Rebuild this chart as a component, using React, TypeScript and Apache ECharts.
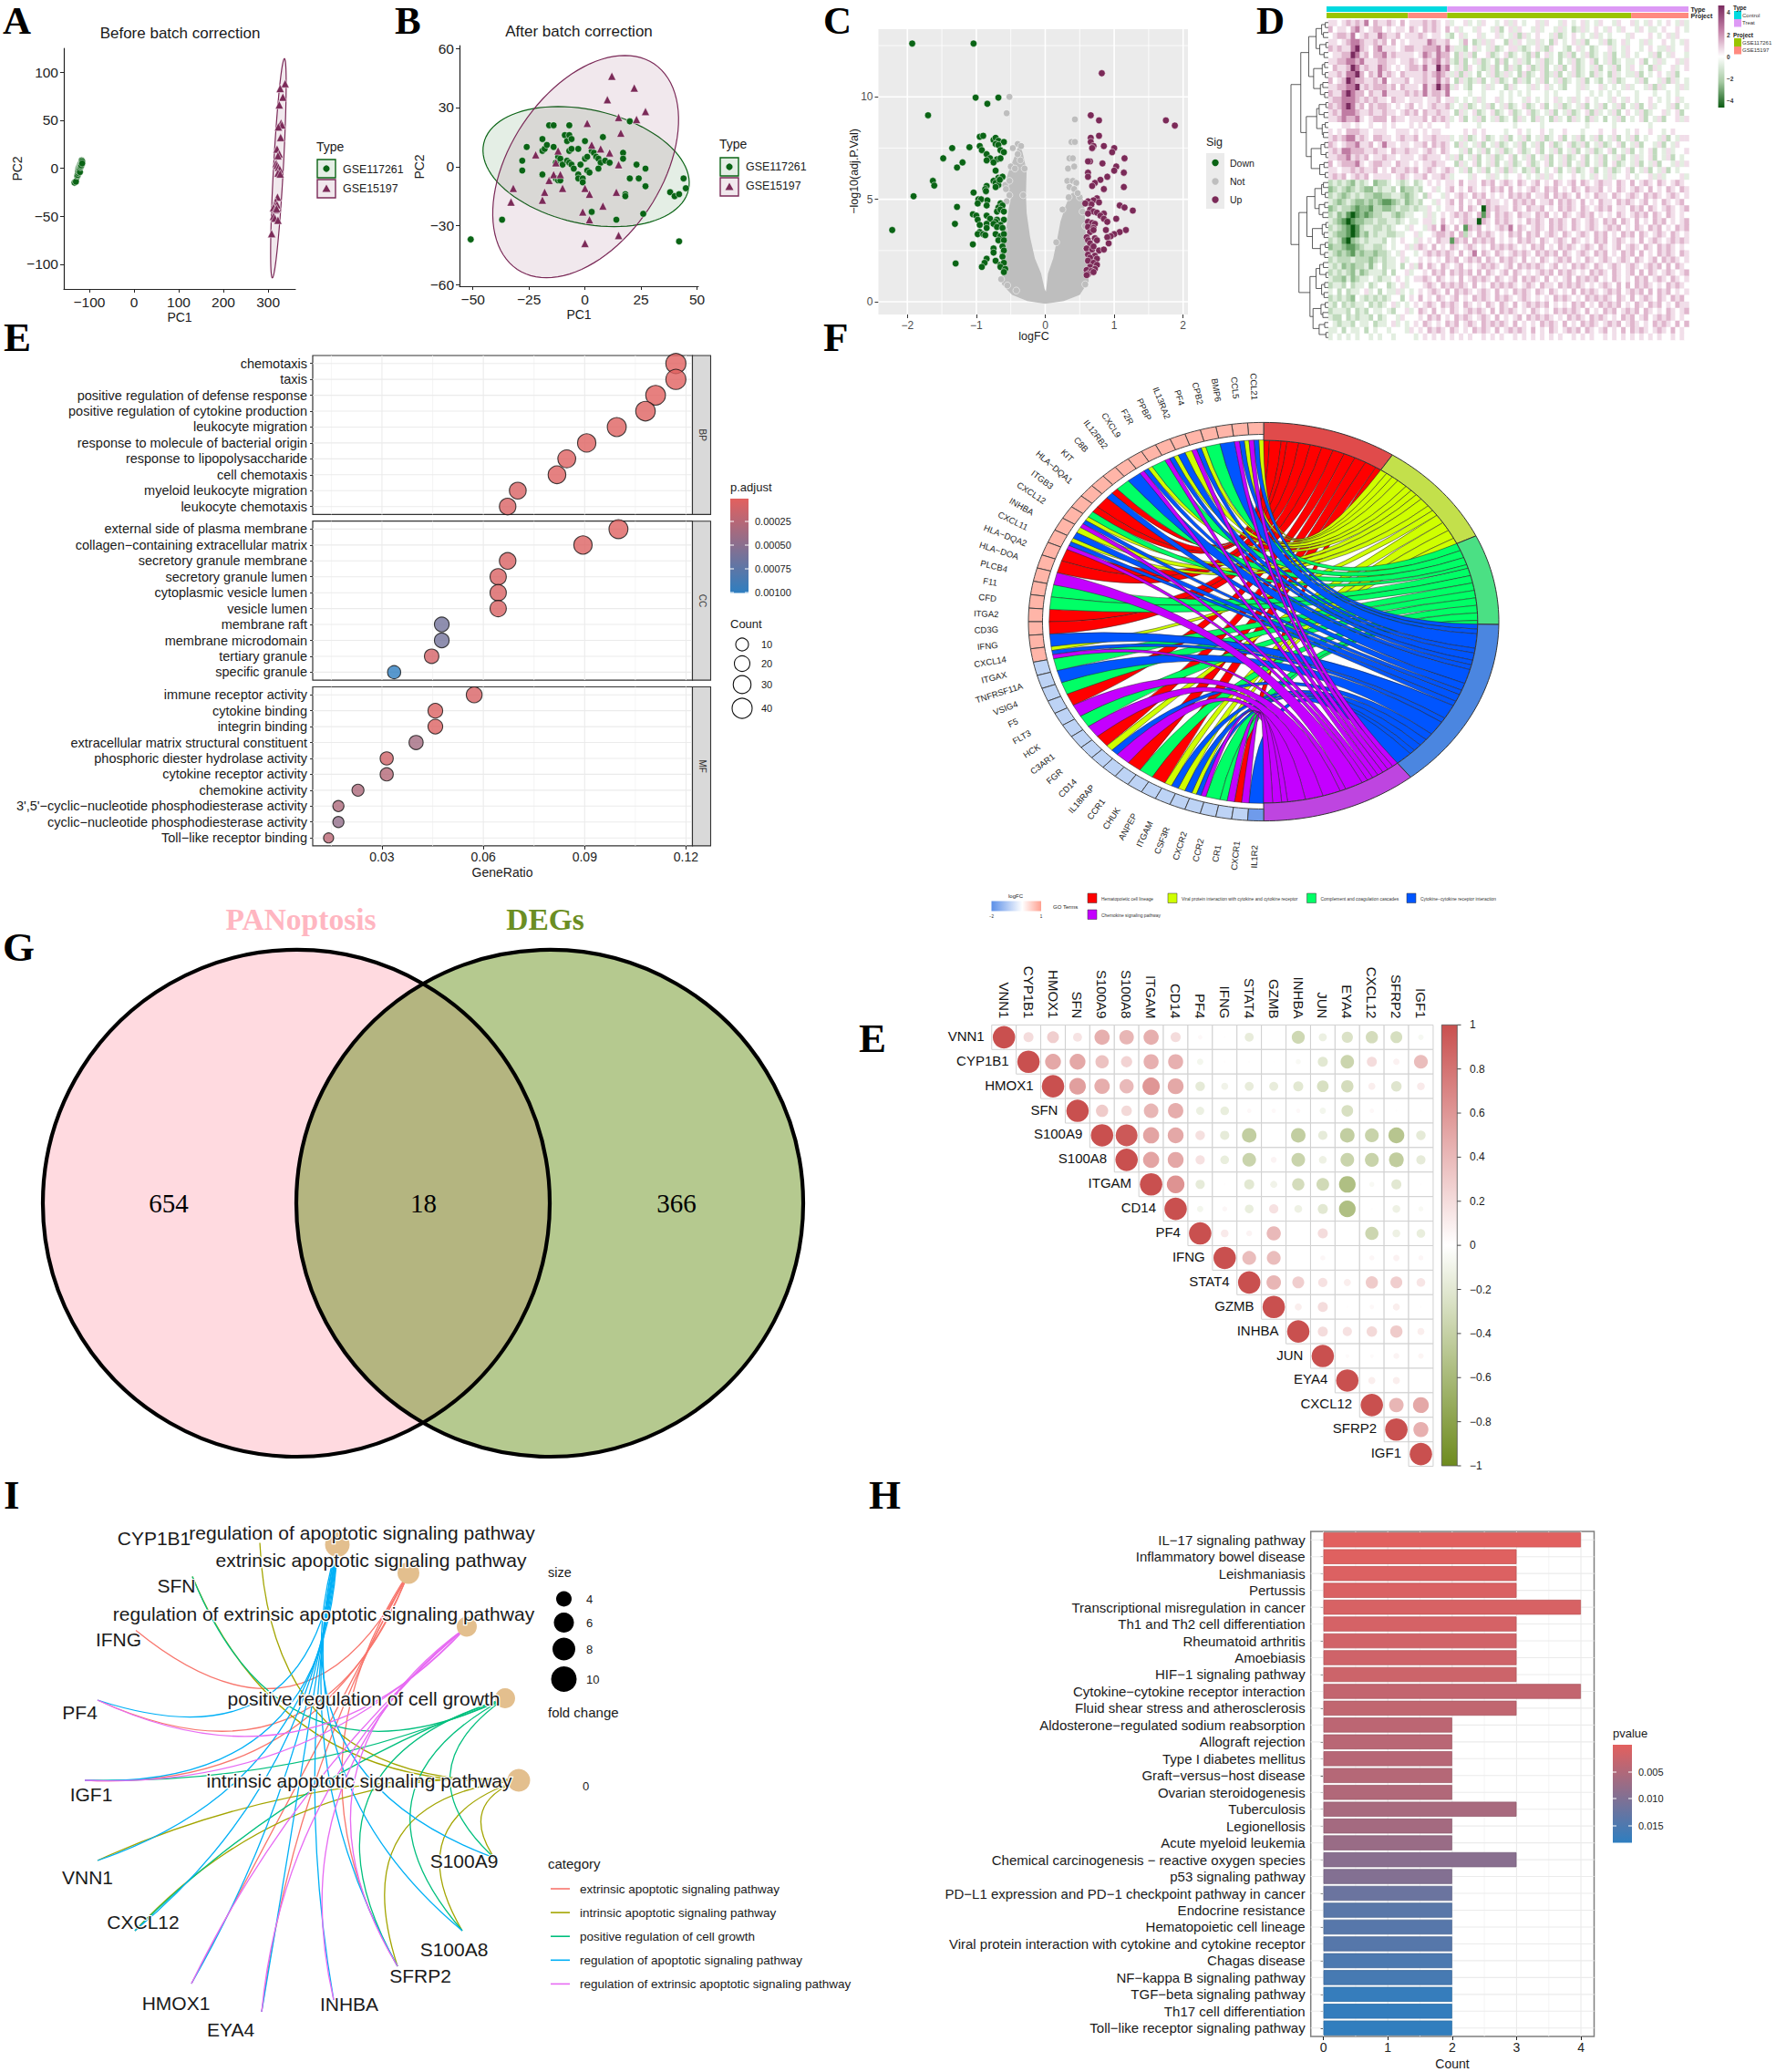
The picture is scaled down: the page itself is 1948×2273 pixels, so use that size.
import React, { useEffect, useRef } from "react";
import * as echarts from "echarts";

const SANS = '"Liberation Sans", Arial, sans-serif';
const SERIF = '"Liberation Serif", "Times New Roman", serif';

/* ---------- A / B ---------- */
const pcaAGreen = [[-133,-15],[-130,-14],[-127,-8],[-126,-7],[-125,-5],[-125,-3],[-124,-2],[-124,0],[-123,1],[-122,-1],[-122,2],[-121,-4],[-121,3],[-120,1],[-120,4],[-119,5],[-119,2],[-118,6],[-118,3],[-117,8],[-116,7],[-116,5]];
const pcaAPurple = [[338,88],[327,83],[333,74],[325,66],[329,47],[331,45],[323,43],[328,32],[320,20],[325,15],[322,13],[318,5],[320,3],[323,1],[326,-1],[322,-5],[327,-6],[321,-30],[317,-35],[315,-39],[320,-38],[312,-41],[316,-43],[319,-42],[312,-50],[315,-52],[322,-54],[308,-68]];
const pcaBGreen = [[-51,-37],[-37,-27],[-28,-2],[-28,3],[-26,10],[-19,14],[-19,-4],[-19,8],[-18,9],[-17,11],[-16,21],[-14,21],[-14,10],[-13,-6],[-12,-7],[-11,-7],[-13,2],[-12,5],[-11,4],[-10,1],[-9,16],[-8,13],[-8,3],[-7,21],[-7,16],[-6,14],[-7,8],[-6,9],[-7,2],[-6,1],[-5,-1],[-3,9],[-3,-4],[-3,-6],[-2,1],[-1,-6],[-1,-8],[0,13],[0,4],[1,5],[1,-2],[2,-3],[3,8],[3,-23],[4,7],[5,5],[6,4],[7,2],[6,-1],[8,15],[9,3],[11,2],[14,-27],[17,7],[17,4],[18,-14],[18,-15],[20,-6],[20,23],[23,1],[24,-6],[26,-24],[27,-1],[27,-10],[38,-13],[40,-15],[42,-14],[42,-38],[44,-6],[45,-11]];
const pcaBPurple = [[-32,-11],[-33,-18],[-22,6],[-18,-13],[-19,-17],[-16,-7],[-14,-4],[-13,2],[-12,8],[-11,-4],[-10,-11],[0,-11],[1,22],[0,-39],[-1,-23],[2,-14],[2,-27],[3,11],[7,9],[8,-20],[10,34],[11,7],[12,46],[14,-13],[15,25],[16,17],[15,1],[15,-35],[22,40],[23,24],[27,28]];
const ellipseA = [[-122,-3,6,13,3,0],[323,0,13.5,114,11,0]];
const ellipseB = [[0.5,0,-12.5,30.5,44.3,0],[0.3,0,17.5,56.5,37.6,0]];
const ticksAx = [-100,0,100,200,300];
const ticksAy = [-100,-50,0,50,100];
const ticksBx = [-50,-25,0,25,50];
const ticksBy = [-60,-30,0,30,60];

/* ---------- C ---------- */
const volcanoDown = [[-1.93,12.6],[-1.04,12.6],[-1.01,9.96],[-.68,9.96],[-.84,9.66],[-1.7,9.1],[-.95,8.05],[-.9,8.1],[-.75,7.9],[-.72,8],[-.68,7.85],[-.6,7.8],[-.72,7.7],[-.68,7.65],[-1.1,7.54],[-1.35,7.5],[-.95,7.6],[-.92,7.4],[-.85,7.2],[-.65,7.4],[-.6,7.3],[-.8,7],[-.85,6.9],[-.7,6.95],[-.65,7],[-.75,6.8],[-1.48,7],[-1.2,6.8],[-1.28,6.55],[-.72,6.4],[-.68,6.05],[-.65,6],[-.62,6.1],[-.75,5.9],[-.72,5.8],[-.68,5.7],[-.66,5.95],[-.72,5.6],[-.85,5.65],[-.87,5.5],[-.86,5.4],[-1.63,5.9],[-1.61,5.67],[-1.04,5.33],[-1.91,5.15],[-.97,5],[-.93,5],[-.84,4.95],[-.98,4.8],[-.85,4.7],[-.65,4.8],[-.68,4.6],[-.62,4.7],[-.7,4.4],[-.65,4.5],[-.6,4.4],[-1.28,4.63],[-1.05,4.27],[-1,4.2],[-.98,4],[-.85,4.2],[-.8,4.05],[-.7,4],[-.72,3.9],[-.6,4],[-.85,3.8],[-.95,3.75],[-.75,3.8],[-.65,3.75],[-.7,3.65],[-.62,3.6],[-.95,3.4],[-.85,3.6],[-1.31,3.8],[-2.22,3.5],[-.98,3.3],[-.9,3.3],[-.87,3.25],[-.72,3.3],[-.65,3.2],[-.6,3.3],[-.68,3],[-.6,3],[-1.05,2.8],[-.62,2.7],[-.75,2.6],[-.6,2.5],[-.75,2.4],[-.62,2.2],[-.85,2.1],[-.72,2],[-.88,1.9],[-1.3,1.87],[-.92,1.7],[-.65,1.8],[-.6,1.9],[-.65,1.7],[-.58,1.6],[-.6,1.45]];
const volcanoUp = [[.82,11.15],[.66,9.1],[.78,8.85],[1.75,8.85],[1.88,8.6],[.66,8],[.78,8.1],[.66,7.8],[.7,7.6],[.68,7.5],[.85,7.6],[1,7.5],[.97,7.3],[1.15,7],[.65,6.85],[.62,6.85],[.83,6.75],[1.03,6.6],[1,6.4],[1.14,6.3],[.62,6.3],[.62,6.1],[.9,6.1],[.8,5.95],[.72,5.8],[.68,5.65],[.85,5.5],[1.14,5.6],[.75,5.05],[.7,4.95],[.62,4.9],[.78,4.85],[.67,4.75],[1.08,4.7],[1.15,4.6],[.58,4.8],[.65,4.5],[.7,4.4],[.75,4.35],[.62,4.3],[1.27,4.45],[.85,4.3],[.8,4.2],[.85,4.05],[1.03,4.05],[.9,3.9],[.62,3.9],[.68,3.85],[.72,3.8],[.62,3.65],[.7,3.6],[.65,3.4],[.7,3.5],[.88,3.5],[1.17,3.5],[1.08,3.4],[1,3.3],[.95,3.2],[.9,3.15],[.6,3.15],[.72,3.1],[.75,3],[.62,3],[.65,2.85],[.92,2.85],[.6,2.6],[.68,2.55],[.7,2.7],[.78,2.5],[.85,2.55],[.62,2.3],[.72,2.25],[.65,2.15],[.75,2.1],[.62,2],[.7,1.9],[.75,1.8],[.65,1.7],[.72,1.6],[.6,1.55],[.67,1.5],[.62,1.35],[.6,1.3],[.7,1.45]];
const volcanoNotMass = [[0,-.1],[-.26,.04],[-.48,.34],[-.63,.86],[-.63,1.38],[-.59,2.86],[-.54,4.34],[-.5,5.08],[-.59,5.67],[-.54,6.27],[-.48,6.79],[-.42,7.3],[-.38,7.75],[-.33,7.3],[-.27,6.41],[-.28,5.23],[-.27,4.34],[-.22,3.16],[-.15,2.12],[-.06,1.38],[-.01,.64],[.01,.49],[.04,1.38],[.115,2.12],[.17,3],[.22,3.9],[.29,4.64],[.36,5.23],[.45,5.45],[.56,4.93],[.585,3.6],[.6,2.12],[.63,1],[.5,.34],[.27,.04]];
const volcanoNot = [[-.52,10],[-.56,9.2],[.43,8.9],[.38,7.8],[.43,7.8],[.35,7],[.4,7],[.33,6.5],[.42,6.6],[.32,5.9],[.4,5.9],[.45,5.8],[.35,5.6],[-.4,7.7],[-.47,7.5],[-.35,7.6],[-.4,7.2],[-.5,6.6],[-.44,6.5],[-.36,6.9],[-.3,6.5],[-.58,5.7],[-.52,5.9],[-.57,5.5],[-.32,5.2],[-.52,5.2],[-.56,4.9],[-.6,3.5],[-.62,2.4],[-.64,1.1],[-.55,.8],[-.42,.55],[.58,.85],[.62,1.4],[.6,2.6],[.58,3.7],[.54,4.4],[.5,5.1],[.42,5.5],[.47,5.3],[.34,5.1],[.25,4.5],[.16,2.9]];
const ticksCx = [-2,-1,0,1,2];
const ticksCy = [0,5,10];

/* ---------- D ---------- */
const heatRows = [
"66567676857667657566676765645564546554564654556465546545645465546556454654565464",
"75665786567756566576576765756455465546356465546455464534645654654655465445655654",
"56776856766876675666765665435645564556454636456554634565454645455546555654564655",
"66567887667675756566668766755475346465536465446453654564635546345645546455654546",
"76766897657866656776677786864435645463456643456436554356453455645465545654464556",
"56677986757786766665687687753646355634563454363564534635463454635465455463546554",
"66778878666776656676576786743635463453635464354634535463456354634544563546455646",
"57667986766876565677686697854636543463536435634635463563454635463546545364556456",
"66768897576867657666676787646364535463464536345634635463453645364544635456546355",
"75679877667685666756676686753643463546345364354635463454635435463455463554636454",
"66778896767776757666586797846543554645536455464564543554645564545464554636455464",
"76689877576686666767686776855554554555454545455545455554554545454555455545545455",
"67788876767665766566656675664545464556454554654545645464565455465465455654545645",
"76789867576776565675656766745463454635463456345635463454635463546354635645546354",
"67688876676676656767576676653645634563456345634546354634563645463565463455645635",
"66787786567775766566675767645635463546345364536453645364536453546354563546355646",
"55566565565565655565656555655555545555555455555455555555545555545555555455555555",
"65657776656665566656565665555565656555545565455654556555455565565545655655456555",
"67678867657766567667566766645463456345463546354634563546354635463546354554635466",
"76567786675686656656675767653645463546345463546356345634635463456354635546354655",
"67688777667665766766567657655463546354634563456354635463546345635463545635464556",
"66778676756676656665676665646354635463456354635463546345635463546354645635463545",
"75677786567766576656566766553645635463546345634563546354635463563454635463554646",
"66566767667565766767567656765463546354636453463545635463456354634563546354635455",
"67675676756666567656675667645554655464545565454646545565454654645565455646455564",
"34343243452334543453456565665756657675676576567565765675765676657657567657656765",
"23432343224344352334355645675657656576757565676576756576576675657656765756576576",
"34323434332233443234536554656765767565657676756675767657565766576567657676567656",
"43234322323211234234355465675756576766565767675667576765756576657676567565765675",
"23433212213322343343446545665757650767665765766756576765765676756657675765676567",
"34231012123344323445546456567676571757676576657675657656767565657656767576576565",
"43210122334334434544566457565676607657676565767657676576567657675765756576756567",
"34321013443343455465546758657517675656768576567657676576567656767565765767565767",
"43221013243443344556455677675736576765657675767567657656765767565767576567657656",
"34310234344435456554656576617675767675656576765765676576565767567656575676567676",
"23321123443345455646765756576567656576767656576756576765676576567567657657676565",
"43232132332334546554567676765756857657656767657676757656765767565767575657676576",
"34333433323434456455656565767567675765767657565765676756576567656765765675767656",
"43423233424534453564757657656756567676567576767656756576765765676567656767575765",
"34343242344435355645565767576767575765675765656767576765657676576567575765676567",
"43324234454344565456676576565756767657656757676575656757676756576565767567657656",
"34435344534553456455567657676765756576767656765766576767656567657575767656576765",
"45353445645354464545656765757676567657565767657657656575767656767567675757675656",
"34343254343434553565756576567565767657676567656565767656576767657657567657657675",
"43534344534345645456567657676576565765765756767675656576756576767565765767565766",
"34443534354454355645765756576567676575767656576565767676575657675676757656576567",
"43353434435345546555657675657676567657565675767676565767657676565767567567676565",
"54344354453445645456576565767567657676765756565767657565767656767567656576765757",
"44535445354554555465657676576565767657567676575657656767576567565757676567657565",
"45454545545455455554565656565656556565655656565656565565656556565656565656556565",
];
const heatColors = ["#0B5B12","#5E9B5E","#94C092","#BFDABC","#E2EEE0","#FFFFFF","#F1DEE9","#E0B6CD","#C07CA3","#7A2A5F"];
const typeBar = [["Control",40],["Treat",80]];
const projectBar = [["GSE117261",27],["GSE15197",13],["GSE117261",61],["GSE15197",19]];
const dendroLevels = [
 [5,8,4,7,6,5,9,6,4,7,5,8,6,4,7,5,8,5,6,9,4,7,5,6,8,4,6,7,5,9,6,4],
 [11,14,10,13,15,10,12,14,11,15,10,13,14,11,12,15],
 [20,24,19,28,22,26,20,25],
 [32,36,35,30],
 [45,48],
 [61],
];

/* ---------- E (dot plot) ---------- */
const bpTerms = ["chemotaxis","taxis","positive regulation of defense response","positive regulation of cytokine production","leukocyte migration","response to molecule of bacterial origin","response to lipopolysaccharide","cell chemotaxis","myeloid leukocyte migration","leukocyte chemotaxis"];
const ccTerms = ["external side of plasma membrane","collagen\u2212containing extracellular matrix","secretory granule membrane","secretory granule lumen","cytoplasmic vesicle lumen","vesicle lumen","membrane raft","membrane microdomain","tertiary granule","specific granule"];
const mfTerms = ["immune receptor activity","cytokine binding","integrin binding","extracellular matrix structural constituent","phosphoric diester hydrolase activity","cytokine receptor activity","chemokine activity","3',5'\u2212cyclic\u2212nucleotide phosphodiesterase activity","cyclic\u2212nucleotide phosphodiesterase activity","Toll\u2212like receptor binding"];
const bpRatio = [.117,.117,.111,.108,.0995,.0906,.0847,.0818,.0702,.0672];
const ccRatio = [.1,.0895,.0672,.0644,.0644,.0644,.0477,.0477,.0447,.0336];
const mfRatio = [.0573,.0458,.0458,.0401,.0314,.0314,.0229,.0171,.0171,.0142];
const bpP = [.00001,.00001,.00001,.00002,.00002,.00002,.00003,.00003,.00005,.00005];
const ccP = [.00002,.00004,.00005,.00005,.00005,.00005,.00062,.00062,.00008,.001];
const mfP = [.00006,.00004,.00004,.00036,.0001,.00026,.0003,.0003,.00045,.00022];
const bpCount = [40,40,38,37,34,31,29,28,24,23];
const ccCount = [34,31,23,22,22,22,16,16,15,11];
const mfCount = [20,16,16,14,11,11,8,6,6,4];
const ticksDot = [.03,.06,.09,.12];
const minorDot = [.015,.045,.075,.105];

/* ---------- F (chord) ---------- */
const chordGenes = ["CCL21","CCL5","BMP6","CPB2","PF4","IL13RA2","PPBP","F2R","CXCL9","IL12RB2","C8B","KIT","HLA\u2212DQA1","ITGB3","CXCL12","INHBA","CXCL11","HLA\u2212DQA2","HLA\u2212DOA","PLCB4","F11","CFD","ITGA2","CD3G","IFNG","CXCL14","ITGAX","TNFRSF11A","VSIG4","F5","FLT3","HCK","C3AR1","FGR","CD14","IL18RAP","CCR1","CHUK","ANPEP","ITGAM","CSF3R","CXCR2","CCR2","CR1","CXCR1","IL1R2"];
const chordLinks = ["YBP","YBP","B","G","YBP","YB","YBP","G","YBP","B","G","RB","R","RG","YBP","YB","YBP","R","R","P","G","G","R","R","B","YBP","G","B","G","R","P","G","P","R","YB","P","R","G","R","YB","YB","YBP","G","GP","RP","B"];
const chordUpCount = 26;
const chordTermKeys = ["R","Y","G","B","P"];
const chordTermSpan = [33.2,31.3,26.3,50.5,38.7];
const chordTermColor = ["#FF0000","#CFFF00","#00FF66","#0055FF","#C400FF"];
const chordRingColor = ["#E04B4B","#C3E04B","#4BE084","#4B86E0","#BE45E0"];
const chordTermNames = ["Hematopoietic cell lineage","Viral protein interaction with cytokine and cytokine receptor","Complement and coagulation cascades","Cytokine\u2212cytokine receptor interaction","Chemokine signaling pathway"];

/* ---------- G ---------- */
const vennSets = ["PANoptosis","DEGs"];
const vennCounts = [654,18,366];
const vennCircles = [[325,1320,278],[603,1320,278]];

/* ---------- corr ---------- */
const corrGenes = ["VNN1","CYP1B1","HMOX1","SFN","S100A9","S100A8","ITGAM","CD14","PF4","IFNG","STAT4","GZMB","INHBA","JUN","EYA4","CXCL12","SFRP2","IGF1"];
const corrRows = [
 [1,.2,.28,.16,.46,.42,.46,.2,.04,.01,-.16,0,-.34,-.13,-.25,-.3,-.28,-.06],
 [1,.5,.5,.35,.25,.45,.45,-.08,.01,.01,.005,-.05,-.2,-.36,.2,.08,.38],
 [1,.55,.47,.4,.6,.5,-.18,-.1,-.16,-.16,-.2,-.27,-.3,.1,-.22,.12],
 [1,.3,.22,.42,.47,-.13,-.15,.04,.04,.04,-.08,-.27,.04,.01,.01],
 [1,.95,.52,.5,.18,-.17,-.42,.005,-.42,-.17,-.42,-.38,-.5,-.18],
 [1,.52,.5,.17,-.15,-.37,.07,-.37,-.12,-.37,-.38,-.43,-.17],
 [1,.62,-.17,.01,-.2,-.1,-.3,-.32,-.55,-.05,-.2,.01],
 [1,-.08,.05,-.15,.17,-.12,-.2,-.55,.01,-.12,-.05],
 [1,.12,.07,.4,.01,.2,.01,-.35,-.12,-.15],
 [1,.38,.38,0,.05,.01,.05,.08,.05],
 [1,.42,.28,.17,.1,.3,.28,.15],
 [1,.1,.2,.01,.04,.1,.01],
 [1,.2,.17,.22,.3,.1],
 [1,.03,.03,.07,.06],
 [1,.1,.1,.03],
 [1,.42,.5],
 [1,.45],
 [1],
];
const corrTicks = [1,.8,.6,.4,.2,0,-.2,-.4,-.6,-.8,-1];

/* ---------- I (gene-concept network) ---------- */
const cnetTerms = ["extrinsic apoptotic signaling pathway","intrinsic apoptotic signaling pathway","positive regulation of cell growth","regulation of apoptotic signaling pathway","regulation of extrinsic apoptotic signaling pathway"];
const cnetTermPos = [[448,1725.6],[569,1953],[554,1863],[370,1694.5],[512,1784.5]];
const cnetTermSize = [24,25,22,27,22];
const cnetTermLabel = [[407,1711],[394,1953.7],[399,1863.6],[397,1681.6],[355,1770]];
const cnetColors = ["#F8766D","#A3A500","#00BF7D","#00B0F6","#E76BF3"];
const cnetGenes = ["CYP1B1","SFN","IFNG","PF4","IGF1","VNN1","CXCL12","HMOX1","EYA4","INHBA","SFRP2","S100A8","S100A9"];
const cnetGenePos = [[285,1692.5],[211,1729.6],[149,1788.6],[107,1865],[93,1953],[107,2041],[148,2118],[210,2176],[287,2207],[366,2194],[436,2157],[507,2118],[542,2038]];
const cnetGeneLabel = [[169,1687.6],[193.5,1739.7],[130,1798],[87.6,1878],[100,1968],[96,2059],[157,2108],[193,2197],[253,2226],[383,2198],[461,2167],[498,2138],[509,2041]];
const cnetEdges = [
 ["IFNG","PF4","IGF1","HMOX1","EYA4","SFRP2"],
 ["CYP1B1","SFN","VNN1","CXCL12","S100A9","S100A8","SFRP2"],
 ["SFN","IGF1","CXCL12","S100A9","S100A8","SFRP2"],
 ["PF4","IGF1","VNN1","CXCL12","HMOX1","EYA4","INHBA","S100A9","S100A8","SFRP2"],
 ["PF4","IGF1","HMOX1","EYA4","INHBA","SFRP2"],
];
const cnetSizeLegend = [[4,17],[6,22],[8,25],[10,28]];

/* ---------- H ---------- */
const keggNames = ["IL\u221217 signaling pathway","Inflammatory bowel disease","Leishmaniasis","Pertussis","Transcriptional misregulation in cancer","Th1 and Th2 cell differentiation","Rheumatoid arthritis","Amoebiasis","HIF\u22121 signaling pathway","Cytokine\u2212cytokine receptor interaction","Fluid shear stress and atherosclerosis","Aldosterone\u2212regulated sodium reabsorption","Allograft rejection","Type I diabetes mellitus","Graft\u2212versus\u2212host disease","Ovarian steroidogenesis","Tuberculosis","Legionellosis","Acute myeloid leukemia","Chemical carcinogenesis \u2212 reactive oxygen species","p53 signaling pathway","PD\u2212L1 expression and PD\u22121 checkpoint pathway in cancer","Endocrine resistance","Hematopoietic cell lineage","Viral protein interaction with cytokine and cytokine receptor","Chagas disease","NF\u2212kappa B signaling pathway","TGF\u2212beta signaling pathway","Th17 cell differentiation","Toll\u2212like receptor signaling pathway"];
const keggCount = [4,3,3,3,4,3,3,3,3,4,3,2,2,2,2,2,3,2,2,3,2,2,2,2,2,2,2,2,2,2];
const keggP = [.0003,.0006,.0009,.0011,.0014,.0016,.002,.0022,.0025,.0034,.0036,.0041,.0044,.0046,.0048,.0052,.0061,.0065,.0076,.0092,.0098,.0122,.014,.0142,.0143,.0153,.0158,.0175,.0178,.018];
const ticksH = [0,1,2,3,4];
const ticksHminor = [.5,1.5,2.5,3.5];

/* ---------- helpers ---------- */
const hex = (c: string) => [1, 3, 5].map((i) => parseInt(c.slice(i, i + 2), 16));
const mix = (a: string, b: string, t: number) => {
  const A = hex(a), B = hex(b), u = Math.max(0, Math.min(1, t));
  return "#" + A.map((v, i) => Math.round(v + (B[i] - v) * u).toString(16).padStart(2, "0")).join("");
};
const RED = "#E3605E", BLUE = "#2E7EC0";
const GREEN_PT = "#0A6415", PURPLE_PT = "#7B2A58";
const minus = (v: any) => String(v).replace("-", "\u2212");

const T = (x: number, y: number, text: string, size: number, o: any = {}) => ({
  type: "text", x, y, rotation: o.rot || 0, z: o.z ?? 50, silent: true,
  style: {
    text, font: `${o.weight || "normal"} ${size}px ${o.font || SANS}`, fill: o.fill || "#1a1a1a",
    align: o.align || "left", textAlign: o.align || "left", verticalAlign: "middle", textVerticalAlign: "middle",
    ...(o.halo ? { stroke: "#fff", lineWidth: o.halo } : {}),
  },
});
const R = (x: number, y: number, w: number, h: number, fill: any, stroke?: string, lw = 1) => ({
  type: "rect", z: 40, silent: true, shape: { x, y, width: w, height: h }, style: { fill, stroke: stroke || "none", lineWidth: lw },
});
const L = (x1: number, y1: number, x2: number, y2: number, stroke: string, lw = 1) => ({
  type: "line", z: 41, silent: true, shape: { x1, y1, x2, y2 }, style: { stroke, lineWidth: lw },
});

function buildOption() {
  const grids: any[] = [], xAxis: any[] = [], yAxis: any[] = [], series: any[] = [], g: any[] = [];
  const cart = (left: number, top: number, width: number, height: number, x: any, y: any, extra: any = {}) => {
    const i = grids.length;
    grids.push({ left, top, width, height, containLabel: false, ...extra });
    xAxis.push({ gridIndex: i, ...x });
    yAxis.push({ gridIndex: i, ...y });
    return i;
  };
  const hiddenV = (min: number, max: number, inverse = false) => ({ type: "value", min, max, inverse, show: false });
  const valAxis = (min: number, max: number, ticks: number[], size: number, o: any = {}) => ({
    type: "value", min, max,
    axisLine: { show: o.line !== false, onZero: false, lineStyle: { color: o.lc || "#222", width: 1.2 } },
    axisTick: { show: true, length: o.tick ?? 4, customValues: ticks, lineStyle: { color: o.tc || "#222" } },
    axisLabel: { customValues: ticks, fontSize: size, fontFamily: SANS, color: o.color || "#222", margin: o.margin ?? 6, formatter: o.fmt || minus },
    splitLine: { show: false },
  });
  const catAxis = (data: string[], size: number) => ({
    type: "category", data, inverse: true,
    axisLine: { show: false }, axisTick: { show: true, length: 3, alignWithLabel: true, lineStyle: { color: "#333" } },
    axisLabel: { interval: 0, fontSize: size, fontFamily: SANS, color: "#1a1a1a", margin: 6 },
    splitLine: { show: false },
  });
  const gridLines = (i: number, xs: number[], ys: number[], color: string, width: number) => ({
    type: "custom", xAxisIndex: i, yAxisIndex: i, silent: true, z: 1, data: [[0, 0]],
    renderItem: (p: any, api: any) => {
      const cs = p.coordSys;
      const children: any[] = [];
      xs.forEach((v) => { const x = api.coord([v, 0])[0]; children.push({ type: "line", shape: { x1: x, y1: cs.y, x2: x, y2: cs.y + cs.height }, style: { stroke: color, lineWidth: width } }); });
      ys.forEach((v) => { const y = api.coord([xAxis[i].min ?? 0, v])[1]; children.push({ type: "line", shape: { x1: cs.x, y1: y, x2: cs.x + cs.width, y2: y }, style: { stroke: color, lineWidth: width } }); });
      return { type: "group", children };
    },
  });
  const points = (i: number, data: any[], color: string, symbol: string, size: number) => ({
    type: "scatter", xAxisIndex: i, yAxisIndex: i, data, symbol, symbolSize: size, silent: true, z: 4,
    itemStyle: { color, borderColor: "#fff", borderWidth: 0.5, opacity: 1 },
  });
  const ellipses = (i: number, data: number[][], colors: string[]) => ({
    type: "custom", xAxisIndex: i, yAxisIndex: i, silent: true, z: 2, data,
    renderItem: (p: any, api: any) => {
      const [cx, cy, ax, ay, bx, by] = [0, 1, 2, 3, 4, 5].map((k) => api.value(k));
      const pts: number[][] = [];
      for (let k = 0; k < 96; k++) {
        const t = (k / 96) * Math.PI * 2;
        pts.push(api.coord([cx + ax * Math.cos(t) + bx * Math.sin(t), cy + ay * Math.cos(t) + by * Math.sin(t)]));
      }
      const c = colors[p.dataIndex];
      return { type: "polygon", shape: { points: pts }, style: { fill: c + "1C", stroke: c, lineWidth: 1.2 } };
    },
  });
  const key = (x: number, y: number, c: string, sym: "c" | "t") => {
    g.push(R(x, y, 20, 20, c + "1C", c, 1.4));
    if (sym === "c") g.push({ type: "circle", z: 42, silent: true, shape: { cx: x + 10, cy: y + 10, r: 3.6 }, style: { fill: c } });
    else g.push({ type: "polygon", z: 42, silent: true, shape: { points: [[x + 10, y + 5.5], [x + 14.5, y + 13.5], [x + 5.5, y + 13.5]] }, style: { fill: c } });
  };
  const lettering: [string, number, number, number][] = [["A",3,22,43],["B",433,22,43],["C",903,22,43],["D",1378,22,43],["E",4,370,45],["F",903,370,45],["G",3,1039,45],["E",942,1139,45],["I",4,1640,45],["H",953,1640,45]];
  lettering.forEach(([s, x, y, size]) => g.push(T(x, y, s, size, { font: SERIF, weight: "bold", fill: "#000" })));

  /* A */
  const iA = cart(70, 53, 254, 264, valAxis(-157, 361, ticksAx, 15.5), valAxis(-125.6, 124.7, ticksAy, 15.5));
  series.push(ellipses(iA, ellipseA, [GREEN_PT, PURPLE_PT]), points(iA, pcaAGreen, GREEN_PT, "circle", 7.5), points(iA, pcaAPurple, PURPLE_PT, "triangle", 9));
  g.push(T(197.5, 36, "Before batch correction", 17, { align: "center" }), T(197, 348, "PC1", 14, { align: "center" }), T(19, 185, "PC2", 14, { align: "center", rot: Math.PI / 2 }));
  g.push(T(347, 161, "Type", 14));
  key(348, 175, GREEN_PT, "c"); key(348, 197, PURPLE_PT, "t");
  g.push(T(376, 186, "GSE117261", 12.4), T(376, 207, "GSE15197", 12.4));

  /* B */
  const iB = cart(504, 50, 262, 264, valAxis(-56, 50.6, ticksBx, 15.5), valAxis(-60.8, 61.5, ticksBy, 15.5));
  series.push(ellipses(iB, ellipseB, [GREEN_PT, PURPLE_PT]), points(iB, pcaBGreen, GREEN_PT, "circle", 7.5), points(iB, pcaBPurple, PURPLE_PT, "triangle", 9));
  g.push(T(635, 34, "After batch correction", 17, { align: "center" }), T(635, 345, "PC1", 14, { align: "center" }), T(460, 183, "PC2", 14, { align: "center", rot: Math.PI / 2 }));
  g.push(T(789, 158, "Type", 14));
  key(790, 173, GREEN_PT, "c"); key(790, 195, PURPLE_PT, "t");
  g.push(T(818, 183, "GSE117261", 12.4), T(818, 204, "GSE15197", 12.4));

  /* C */
  const iC = cart(963.5, 32, 339.5, 313, valAxis(-2.42, 2.07, ticksCx, 12, { line: false, tc: "#333", color: "#4D4D4D" }), valAxis(-0.62, 13.3, ticksCy, 12, { line: false, tc: "#333", color: "#4D4D4D" }), { show: true, backgroundColor: "#EBEBEB", borderWidth: 0 });
  series.push(gridLines(iC, [-1.5, -.5, .5, 1.5], [2.5, 7.5, 12.5], "#fff", 0.8), gridLines(iC, ticksCx, ticksCy, "#fff", 1.6));
  series.push({
    type: "custom", xAxisIndex: iC, yAxisIndex: iC, silent: true, z: 2, data: [[0, 0]],
    renderItem: (_: any, api: any) => ({ type: "polygon", shape: { points: volcanoNotMass.map((q) => api.coord(q)) }, style: { fill: "#BEBEBE" } }),
  });
  series.push(points(iC, volcanoNot, "#BEBEBE", "circle", 7.5), points(iC, volcanoDown, "#0A6415", "circle", 7.5), points(iC, volcanoUp, "#7B2A58", "circle", 7.5));
  g.push(T(1134, 369, "logFC", 12.5, { align: "center" }), T(937, 188, "\u2212log10(adj.P.Val)", 12.5, { align: "center", rot: Math.PI / 2 }));
  g.push(T(1323, 156, "Sig", 12.5), R(1323, 168, 20, 61, "#EBEBEB"));
  [["Down", "#0A6415", 178.5], ["Not", "#BEBEBE", 199], ["Up", "#7B2A58", 219]].forEach(([s, c, y]: any) => {
    g.push({ type: "circle", z: 42, silent: true, shape: { cx: 1333, cy: y, r: 3.7 }, style: { fill: c } }, T(1349, y, s, 10.5));
  });

  /* D */
  const nCols = 80;
  const iD = cart(1457, 22, 395.5, 351, { type: "category", data: Array.from({ length: nCols }, (_, i) => String(i)), show: false }, { type: "category", data: heatRows.map((_, i) => String(i)), inverse: true, show: false });
  const heatIndex = series.length;
  series.push({
    type: "heatmap", xAxisIndex: iD, yAxisIndex: iD, silent: true, z: 2,
    data: heatRows.flatMap((r, y) => r.slice(0, nCols).split("").map((c, x) => [x, y, Number(c)])),
    itemStyle: { borderWidth: 0 },
  });
  const iAnn = cart(1455, 6.5, 397, 14, hiddenV(0, 120), { type: "category", data: ["Type", "Project"], inverse: true, show: false });
  const annColor: any = { Control: "#00DAE0", Treat: "#DD99F5", GSE117261: "#9AC400", GSE15197: "#FF8A80" };
  [0, 1, 2, 3].forEach((k) => {
    const a: any = typeBar[k]; const b: any = projectBar[k];
    series.push({
      type: "bar", xAxisIndex: iAnn, yAxisIndex: iAnn, stack: "ann", barWidth: 6, silent: true,
      data: [a ? { value: a[1], itemStyle: { color: annColor[a[0]] } } : { value: 0 }, { value: b[1], itemStyle: { color: annColor[b[0]] } }],
    });
  });
  const segs: number[][] = [];
  let nodes: number[][] = dendroLevels[0].flatMap((_, i) => [[0, (i + .25) * 100 / 32], [0, (i + .75) * 100 / 32]]);
  dendroLevels.forEach((lvl) => {
    const next: number[][] = [];
    lvl.forEach((d, i) => {
      const a = nodes[2 * i], b = nodes[2 * i + 1];
      segs.push([a[0], a[1], d, a[1]], [b[0], b[1], d, b[1]], [d, a[1], d, b[1]]);
      next.push([d, a[1] + (b[1] - a[1]) * .4]);
    });
    nodes = next;
  });
  const iDen = cart(1416, 22, 41, 351, hiddenV(0, 61, true), hiddenV(0, 100, true));
  series.push({
    type: "custom", xAxisIndex: iDen, yAxisIndex: iDen, silent: true, data: segs,
    renderItem: (_: any, api: any) => {
      const a = api.coord([api.value(0), api.value(1)]), b = api.coord([api.value(2), api.value(3)]);
      return { type: "line", shape: { x1: a[0], y1: a[1], x2: b[0], y2: b[1] }, style: { stroke: "#333", lineWidth: 0.8 } };
    },
  });
  const barStops = ["#0B5B12","#A5C9A2","#FFFFFF","#C583A9","#7A2A5F"];
  const dBar = barStops.slice().reverse().map((c, i) => ({ offset: i / 4, color: c }));
  g.push(R(1884.6, 6, 6.8, 112, new echarts.graphic.LinearGradient(0, 0, 0, 1, dBar)));
  [["4", 13], ["2", 38], ["0", 62], ["\u22122", 86], ["\u22124", 110]].forEach(([s, y]: any) => g.push(T(1894, y, s, 6.5, { weight: "bold", fill: "#333" })));
  g.push(T(1854.5, 10, "Type", 7, { weight: "bold" }), T(1854.5, 17, "Project", 7, { weight: "bold" }));
  g.push(T(1901, 8, "Type", 6.5, { weight: "bold" }), R(1902, 12, 8, 9, annColor.Control), R(1902, 21, 8, 8.5, annColor.Treat), T(1911, 17, "Control", 6, { fill: "#333" }), T(1911, 25, "Treat", 6, { fill: "#333" }));
  g.push(T(1901, 38, "Project", 6.5, { weight: "bold" }), R(1902, 42, 8, 9, annColor.GSE117261), R(1902, 51, 8, 8.5, annColor.GSE15197), T(1911, 47, "GSE117261", 6, { fill: "#333" }), T(1911, 55, "GSE15197", 6, { fill: "#333" }));

  /* E dot plot */
  const dotPanel = (top: number, terms: string[], ratio: number[], p: number[], cnt: number[], bottom: boolean, strip: string) => {
    const i = cart(343, top, 416.5, 174.4,
      { ...valAxis(.0095, .1219, ticksDot, 14, { line: false, fmt: (v: number) => v.toFixed(2), tick: bottom ? 4 : 0, margin: 5 }), axisLabel: { show: bottom, customValues: ticksDot, fontSize: 14, fontFamily: SANS, color: "#222", margin: 5, formatter: (v: number) => v.toFixed(2) } },
      catAxis(terms, 14.5), { show: true, borderColor: "#333", borderWidth: 1.2, backgroundColor: "#fff" });
    series.push(gridLines(i, minorDot, [], "#F2F2F2", 0.8), gridLines(i, ticksDot, terms.map((_, k) => k), "#EBEBEB", 1.1));
    series.push({
      type: "scatter", xAxisIndex: i, yAxisIndex: i, silent: true, z: 4,
      symbolSize: (v: number[]) => 6 + 2.53 * Math.sqrt(v[2]),
      itemStyle: { borderColor: "#111", borderWidth: 1.1 },
      data: ratio.map((r, k) => ({ value: [r, k, cnt[k]], itemStyle: { color: mix(RED, BLUE, p[k] / .001) } })),
    });
    g.push(R(759.5, top, 20, 174.4, "#D9D9D9", "#333", 1.1), T(770, top + 87.2, strip, 10, { align: "center", rot: -Math.PI / 2, fill: "#333" }));
  };
  dotPanel(390, bpTerms, bpRatio, bpP, bpCount, false, "BP");
  dotPanel(571.7, ccTerms, ccRatio, ccP, ccCount, false, "CC");
  dotPanel(753.5, mfTerms, mfRatio, mfP, mfCount, true, "MF");
  g.push(T(551, 957, "GeneRatio", 14, { align: "center" }), T(801, 534.5, "p.adjust", 13));
  g.push(R(801, 547, 20, 103.5, new echarts.graphic.LinearGradient(0, 0, 0, 1, [{ offset: 0, color: RED }, { offset: 1, color: BLUE }])));
  [["0.00025", 572], ["0.00050", 598], ["0.00075", 624], ["0.00100", 650]].forEach(([s, y]: any) => { g.push(T(828, y, s, 11), L(801, y, 805, y, "#fff"), L(817, y, 821, y, "#fff")); });
  g.push(T(801, 684, "Count", 13));
  [[10, 707, 14], [20, 728, 17], [30, 751, 19.5], [40, 777, 22]].forEach(([n, y, d]) => {
    g.push({ type: "circle", z: 42, silent: true, shape: { cx: 814, cy: y, r: d / 2 }, style: { fill: "#fff", stroke: "#111", lineWidth: 1.1 } }, T(835, y, String(n), 11));
  });

  /* F chord */
  const Rx = 258, Ry = 218.6;
  const iF = cart(1386 - Rx, 682 - Ry, 2 * Rx, 2 * Ry, hiddenV(-1, 1), hiddenV(-1, 1));
  const uc = (deg: number, r: number) => { const a = (deg * Math.PI) / 180; return [r * Math.sin(a), r * Math.cos(a)]; };
  const wGene = 180 / chordGenes.length;
  const ribbonsByTerm: number[][][] = chordTermKeys.map(() => []);
  chordGenes.forEach((_, i) => {
    const links = chordLinks[i].split("");
    const top = 360 - i * wGene, sub = wGene / links.length;
    links.forEach((k, j) => ribbonsByTerm[chordTermKeys.indexOf(k)].push([top - j * sub, top - (j + 1) * sub, sub]));
  });
  let start = 0;
  const termRanges: number[][] = [];
  chordTermSpan.forEach((span, k) => {
    const list = ribbonsByTerm[k];
    const total = list.reduce((s, r) => s + r[2], 0);
    let b = start;
    const data = list.map((r) => { const w = (r[2] * span) / total; const row = [r[0], r[1], b, b + w]; b += w; return row; });
    termRanges.push([start, start + span]);
    start += span;
    series.push({
      type: "custom", xAxisIndex: iF, yAxisIndex: iF, silent: true, z: 3 + k * 0.01, data,
      renderItem: (_: any, api: any) => {
        const c = (deg: number, r: number) => api.coord(uc(deg, r));
        const o = api.coord([0, 0]);
        const [a1, a2, b1, b2] = [0, 1, 2, 3].map((n) => api.value(n));
        const p1 = c(a1, .912), p2 = c(b1, .91), p3 = c(b2, .91), p4 = c(a2, .912);
        return {
          type: "path",
          shape: { pathData: `M${p1[0]} ${p1[1]}Q${o[0]} ${o[1]} ${p2[0]} ${p2[1]}L${p3[0]} ${p3[1]}Q${o[0]} ${o[1]} ${p4[0]} ${p4[1]}Z` },
          style: { fill: chordTermColor[k], stroke: "#222", lineWidth: 0.5 },
        };
      },
    });
  });
  const ring = (api: any, d1: number, d2: number, r1: number, r2: number) => {
    const pts: number[][] = [];
    const n = Math.max(2, Math.ceil(Math.abs(d2 - d1) / 1.5));
    for (let k = 0; k <= n; k++) pts.push(api.coord(uc(d1 + ((d2 - d1) * k) / n, r2)));
    for (let k = n; k >= 0; k--) pts.push(api.coord(uc(d1 + ((d2 - d1) * k) / n, r1)));
    return pts;
  };
  series.push({
    type: "custom", xAxisIndex: iF, yAxisIndex: iF, silent: true, z: 4, data: termRanges,
    renderItem: (p: any, api: any) => ({ type: "polygon", shape: { points: ring(api, api.value(0), api.value(1), .91, 1) }, style: { fill: chordRingColor[p.dataIndex], stroke: "#333", lineWidth: 1 } }),
  });
  series.push({
    type: "custom", xAxisIndex: iF, yAxisIndex: iF, silent: true, z: 4, data: chordGenes.map((_, i) => [i, 0]),
    renderItem: (p: any, api: any) => {
      const i = p.dataIndex;
      const a = 360 - i * wGene, b = a - wGene, m = (a + b) / 2;
      const fill = i === chordGenes.length - 1 ? "#6F9BEB" : i < chordUpCount ? "#FFB5A8" : "#BDD3F5";
      const [ux, uy] = uc(m, 1.18);
      const t = api.coord([ux, uy]);
      return {
        type: "group",
        children: [
          { type: "polygon", shape: { points: ring(api, a, b, .94, 1) }, style: { fill, stroke: "#444", lineWidth: 1 } },
          { type: "text", x: t[0], y: t[1], rotation: -Math.atan2(uy, -ux), style: { text: chordGenes[i], font: `9.5px ${SANS}`, fill: "#222", align: "center", textAlign: "center", verticalAlign: "middle", textVerticalAlign: "middle" } },
        ],
      };
    },
  });
  g.push(T(1114, 983, "logFC", 6, { align: "center" }), R(1087.5, 988.6, 54.5, 11, new echarts.graphic.LinearGradient(0, 0, 1, 0, [{ offset: 0, color: "#5B8FE8" }, { offset: .62, color: "#FFFFFF" }, { offset: 1, color: "#FFA090" }])));
  g.push(T(1087.5, 1005, "\u22122", 4.5, { align: "center" }), T(1142, 1005, "1", 4.5, { align: "center" }), T(1155, 995, "GO Terms", 6));
  [[1193, 980], [1281, 980], [1433.5, 980], [1543, 980], [1193, 998]].forEach(([x, y], k) => {
    g.push(R(x, y, 10, 10.5, chordTermColor[k], "#333", 0.5), T(x + 15, y + 6, chordTermNames[k], 4.9, { fill: "#333" }));
  });

  /* G Venn */
  const iG = cart(0, 980, 940, 650, hiddenV(0, 940), hiddenV(980, 1630, true));
  series.push({
    type: "custom", xAxisIndex: iG, yAxisIndex: iG, silent: true, z: 2, data: [[0, 0]],
    renderItem: (_: any, api: any) => {
      const pt = vennCircles.map(([x, y, r]) => { const c = api.coord([x, y]); return [c[0], c[1], r]; });
      const [l, rr] = pt;
      const d = (rr[0] - l[0]) / 2, h = Math.sqrt(l[2] * l[2] - d * d), mx = (l[0] + rr[0]) / 2, cy = l[1], r = l[2];
      const lens = `M${mx} ${cy - h}A${r} ${r} 0 0 1 ${mx} ${cy + h}A${r} ${r} 0 0 1 ${mx} ${cy - h}Z`;
      return {
        type: "group",
        children: [
          { type: "circle", shape: { cx: l[0], cy: l[1], r }, style: { fill: "#FFDAE0" } },
          { type: "circle", shape: { cx: rr[0], cy: rr[1], r }, style: { fill: "#B5C98F" } },
          { type: "path", shape: { pathData: lens }, style: { fill: "#B4B580" } },
          { type: "circle", shape: { cx: l[0], cy: l[1], r }, style: { fill: "none", stroke: "#000", lineWidth: 4.2 } },
          { type: "circle", shape: { cx: rr[0], cy: rr[1], r }, style: { fill: "none", stroke: "#000", lineWidth: 4.2 } },
        ],
      };
    },
  });
  g.push(T(330, 1008, vennSets[0], 33.5, { align: "center", font: SERIF, weight: "bold", fill: "#FFB6C1" }), T(598, 1008, vennSets[1], 33.5, { align: "center", font: SERIF, weight: "bold", fill: "#6B8E23" }));
  [185, 464.6, 742].forEach((x, k) => g.push(T(x, 1320, String(vennCounts[k]), 29, { align: "center", font: SERIF, fill: "#000" })));

  /* Corr */
  const corrColor = (v: number) => (v >= 0 ? mix("#FFFFFF", "#C9504F", v) : mix("#FFFFFF", "#6E8B1E", -v));
  const iCorr = cart(1087.75, 1124.4, 484.2, 484.2,
    { type: "category", data: corrGenes, position: "top", axisLine: { show: false }, axisTick: { show: false }, axisLabel: { interval: 0, rotate: 90, fontSize: 15, fontFamily: SANS, color: "#111", margin: 7 } },
    { type: "category", data: corrGenes, inverse: true, show: false });
  series.push({
    type: "custom", xAxisIndex: iCorr, yAxisIndex: iCorr, silent: true, z: 2,
    data: corrRows.flatMap((row, r) => row.map((v, k) => [r + k, r, v])),
    renderItem: (_: any, api: any) => {
      const col = api.value(0), row = api.value(1), v = api.value(2);
      const c = api.coord([col, row]), s = api.size([1, 1]);
      const children: any[] = [
        { type: "rect", shape: { x: c[0] - s[0] / 2, y: c[1] - s[1] / 2, width: s[0], height: s[1] }, style: { fill: "#fff", stroke: "#D0D0D0", lineWidth: 1 } },
        { type: "circle", shape: { cx: c[0], cy: c[1], r: 12.3 * Math.sqrt(Math.abs(v)) }, style: { fill: corrColor(v) } },
      ];
      if (col === row) children.push({ type: "text", x: c[0] - 21.5, y: c[1] - 1.5, style: { text: corrGenes[col], font: `15px ${SANS}`, fill: "#111", align: "right", textAlign: "right", verticalAlign: "middle", textVerticalAlign: "middle" } });
      return { type: "group", children };
    },
  });
  g.push(R(1581.3, 1124.3, 17, 483.7, new echarts.graphic.LinearGradient(0, 0, 0, 1, [{ offset: 0, color: "#C9504F" }, { offset: .5, color: "#FFFFFF" }, { offset: 1, color: "#6E8B1E" }]), "#555", 0.8));
  corrTicks.forEach((v) => { const y = 1124.3 + ((1 - v) / 2) * 483.7; g.push(L(1598.3, y, 1602.5, y, "#444", 1), T(1612, y, minus(v), 12)); });

  /* I */
  const iI = cart(0, 1660, 600, 613, hiddenV(0, 600), hiddenV(1660, 2273, true));
  const layoutCentre = [330, 1950];
  cnetEdges.forEach((list, k) => {
    series.push({
      type: "custom", xAxisIndex: iI, yAxisIndex: iI, silent: true, z: 2,
      data: list.map((name) => cnetGenePos[cnetGenes.indexOf(name)].concat(cnetTermPos[k])),
      renderItem: (_: any, api: any) => {
        const ax = api.value(0), ay = api.value(1), bx = api.value(2), by = api.value(3);
        const mx = (ax + bx) / 2, my = (ay + by) / 2, len = Math.hypot(bx - ax, by - ay);
        let px = -(by - ay) / len, py = (bx - ax) / len;
        const dc = (layoutCentre[0] - mx) * px + (layoutCentre[1] - my) * py;
        if (dc < 0) { px = -px; py = -py; }
        const off = Math.min(0.62 * len, 1.2 * Math.abs(dc));
        const a = api.coord([ax, ay]), b = api.coord([bx, by]), q = api.coord([mx + px * off, my + py * off]);
        return { type: "path", shape: { pathData: `M${a[0]} ${a[1]}Q${q[0]} ${q[1]} ${b[0]} ${b[1]}` }, style: { fill: "none", stroke: cnetColors[k], lineWidth: 1.3 } };
      },
    });
  });
  series.push({
    type: "scatter", xAxisIndex: iI, yAxisIndex: iI, silent: true, z: 3,
    data: cnetTermPos.map((q, k) => [q[0], q[1], cnetTermSize[k]]),
    symbolSize: (v: number[]) => v[2], itemStyle: { color: "#E3BF8E", opacity: 1 },
  });
  cnetTerms.forEach((s, k) => g.push(T(cnetTermLabel[k][0], cnetTermLabel[k][1], s, 21, { align: "center", halo: 2.5 })));
  cnetGenes.forEach((s, k) => g.push(T(cnetGeneLabel[k][0], cnetGeneLabel[k][1], s, 21, { align: "center", halo: 2 })));
  g.push(T(601, 1725, "size", 14.5));
  [1754, 1780, 1809, 1842].forEach((y, k) => {
    g.push({ type: "circle", z: 42, silent: true, shape: { cx: 618.5, cy: y, r: cnetSizeLegend[k][1] / 2 }, style: { fill: "#000" } }, T(643, y, String(cnetSizeLegend[k][0]), 13));
  });
  g.push(T(601, 1878, "fold change", 15), T(639, 1959, "0", 13), T(601, 2044, "category", 15));
  cnetTerms.forEach((s, k) => { const y = 2072 + k * 26.1; g.push(L(604, y, 625, y, cnetColors[k], 1.6), T(636, y, s, 13.5)); });

  /* H */
  const iH = cart(1437.7, 1680, 310.8, 554,
    valAxis(-.197, 4.205, ticksH, 14, { line: false, margin: 5 }),
    catAxis(keggNames, 15), { show: true, borderColor: "#7F7F7F", borderWidth: 1.5, backgroundColor: "#fff" });
  series.push(gridLines(iH, ticksHminor, [], "#F2F2F2", 0.8), gridLines(iH, ticksH, keggNames.map((_, k) => k), "#EBEBEB", 1.1));
  const pColor = (p: number) => mix(RED, BLUE, (p - .0002) / .0181);
  series.push({
    type: "bar", xAxisIndex: iH, yAxisIndex: iH, barWidth: 16.4, silent: true, z: 3,
    data: keggCount.map((v, k) => ({ value: v, itemStyle: { color: pColor(keggP[k]), borderColor: mix(pColor(keggP[k]), "#000000", .12), borderWidth: 0.8 } })),
  });
  g.push(T(1593, 2264, "Count", 14, { align: "center" }), T(1769, 1901.6, "pvalue", 13));
  g.push(R(1769, 1914, 21, 107.6, new echarts.graphic.LinearGradient(0, 0, 0, 1, [{ offset: 0, color: RED }, { offset: 1, color: BLUE }])));
  [["0.005", 1944], ["0.010", 1973], ["0.015", 2003]].forEach(([s, y]: any) => g.push(T(1797, y, s, 11), L(1769, y, 1773, y, "#fff"), L(1786, y, 1790, y, "#fff")));

  return {
    animation: false, backgroundColor: "#fff",
    grid: grids, xAxis, yAxis, series,
    visualMap: [{ show: false, seriesIndex: heatIndex, min: 0, max: 9, inRange: { color: heatColors } }],
    graphic: { elements: g },
  };
}

export default function App() {
  const ref = useRef<HTMLDivElement>(null);
  useEffect(() => {
    const chart = echarts.init(ref.current as HTMLDivElement, undefined, { renderer: "svg", width: 1948, height: 2273 });
    chart.setOption(buildOption() as any);
    return () => chart.dispose();
  }, []);
  return <div ref={ref} style={{ position: "absolute", left: 0, top: 0, width: 1948, height: 2273 }} />;
}
